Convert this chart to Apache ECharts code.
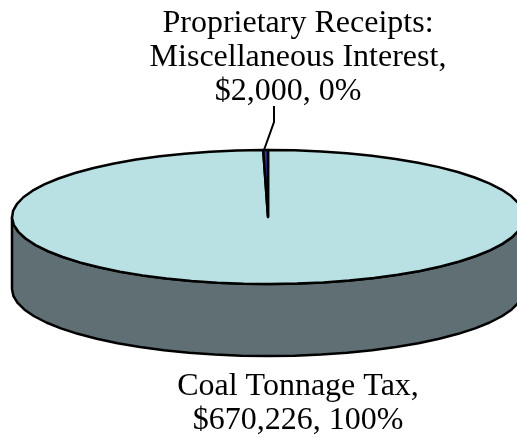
<!DOCTYPE html>
<html>
<head>
<meta charset="utf-8">
<style>
    html, body { margin: 0; padding: 0; background: #fff; }
    #chart { width: 517px; height: 437px; }
</style>
<script src="https://cdn.jsdelivr.net/npm/echarts@6/dist/echarts.min.js"></script>
</head>
<body>
<div id="chart"></div>
<script>
const categories = ['Coal Tonnage Tax', 'Proprietary Receipts:\nMiscellaneous Interest'];
const amounts = [670226, 2000];
const amountLabels = ['$670,226', '$2,000'];
const shareLabels = ['100%', '0%'];
const sliceColors = ['#b9e0e3', '#3333a0'];

// pie geometry, the depth makes it a flat drum
const cx = 268, cy = 217, rx = 256, ry = 67, depth = 72;
const total = amounts.reduce((a, b) => a + b, 0);

function rim(deg) {
    const a = deg * Math.PI / 180;
    return [cx + rx * Math.cos(a), cy - ry * Math.sin(a)];
}

// facets like the original, which is a coarse polygon
function arc(from, to, step) {
    const pts = [];
    const n = Math.max(1, Math.round(Math.abs(to - from) / step));
    for (let i = 0; i <= n; i++) {
        pts.push(rim(from + (to - from) * i / n));
    }
    return pts;
}

function renderSlice(params, api) {
    const idx = params.dataIndex;
    let before = 0;
    for (let i = 0; i < idx; i++) before += api.value(0, i);
    // clockwise from 12 o'clock
    const start = 90 - before / total * 360;
    const end = start - api.value(0) / total * 360;
    const stroke = { stroke: '#000', lineWidth: 2.5, lineJoin: 'round' };
    const children = [];
    if (idx === 0) {
        // side wall, only the front half shows
        const top = arc(180, 360, 6);
        const bottom = top.map(p => [p[0], p[1] + depth]).reverse();
        children.push({
            type: 'polygon',
            shape: { points: top.concat(bottom) },
            style: Object.assign({ fill: '#5f6f73' }, stroke)
        });
    }
    children.push({
        type: 'polygon',
        shape: { points: [[cx, cy]].concat(arc(start, end, 6)) },
        style: Object.assign({ fill: sliceColors[idx] }, stroke)
    });
    return { type: 'group', children: children };
}

function labelLine(text, x, y) {
    return {
        type: 'text',
        x: x,
        y: y,
        style: {
            text: text,
            fill: '#000',
            align: 'center',
            verticalAlign: 'top',
            font: '32px "Liberation Serif", serif',
            lineHeight: 34
        }
    };
}

function renderLabel(params) {
    const idx = params.dataIndex;
    // the value line of the small slice sits off centre in the original
    const x = idx === 0 ? 298 : 298;
    const y = idx === 0 ? 370 : 7;
    const valueX = idx === 0 ? 298 : 288;
    const lines = (categories[idx] + ',').split('\n');
    const children = lines.map((t, i) => labelLine(t, x, y + i * 34));
    children.push(labelLine(amountLabels[idx] + ', ' + shareLabels[idx], valueX, y + lines.length * 34));
    return { type: 'group', children: children };
}

const chart = echarts.init(document.getElementById('chart'), null, { renderer: 'canvas' });
chart.setOption({
    animation: false,
    backgroundColor: '#fff',
    series: [
        {
            type: 'custom',
            coordinateSystem: 'none',
            data: amounts.map(v => [v]),
            renderItem: renderSlice,
            silent: true
        },
        {
            type: 'custom',
            coordinateSystem: 'none',
            data: amounts.map(v => [v]),
            renderItem: renderLabel,
            silent: true
        }
    ],
    graphic: [{
        type: 'polyline',
        shape: { points: [[274, 106], [274, 122], [264, 150]] },
        style: { stroke: '#000', lineWidth: 2, fill: null }
    }]
});
</script>
</body>
</html>
